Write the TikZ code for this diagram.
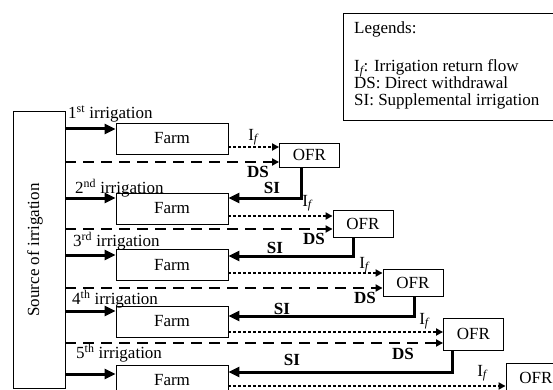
\documentclass[tikz,border=0pt]{standalone}
\usepackage{fontspec}
\setmainfont{Liberation Serif}
\usetikzlibrary{arrows.meta}

\tikzset{
  box/.style={draw, line width=0.9pt, inner sep=0pt},
  farm/.style={box, minimum width=112pt, minimum height=31pt},
  ofr/.style={box, minimum width=60pt, minimum height=27pt},
  irr/.style={line width=3pt, -{Triangle[length=11pt,width=10pt]}},
  supp/.style={line width=3pt, -{Triangle[length=11pt,width=10pt]}},
  ret/.style={line width=2.2pt, dash pattern=on 2.2pt off 2.8pt, -{Triangle[length=7pt,width=7pt]}},
  withdr/.style={line width=2.6pt, dash pattern=on 11pt off 7pt, -{Triangle[length=7pt,width=7pt]}},
  txt/.style={font=\fontsize{17}{17}\selectfont, inner sep=0pt},
  btxt/.style={font=\fontsize{17}{17}\selectfont\bfseries, inner sep=0pt},
  lab/.style={txt, anchor=west}
}

\begin{document}
\begin{tikzpicture}[x=1pt, y=-1pt, txt]
  \useasboundingbox (0,0) rectangle (553,390);

  % Source
  \node[box, minimum width=52pt, minimum height=277pt] (src) at (39,249.5) {};
  \node[txt, rotate=90] (srctxt) at (35,250) {Source of irrigation};

  % Farms
  \node[farm] (farm1) at (172,138.5) {Farm};
  \node[farm] (farm2) at (172,208.5) {Farm};
  \node[farm] (farm3) at (172,265) {Farm};
  \node[farm] (farm4) at (172,321.5) {Farm};
  \node[farm] (farm5) at (172,380.5) {Farm};

  % On-farm reservoirs
  \node[ofr, minimum height=24pt] (ofr1) at (309.5,155) {OFR};
  \node[ofr] (ofr2) at (363,224) {OFR};
  \node[ofr] (ofr3) at (413,283) {OFR};
  \node[ofr, minimum height=32pt] (ofr4) at (473.5,334) {OFR};
  \node[ofr, minimum height=30pt] (ofr5) at (536,378) {OFR};

  % Legends
  \node[box, anchor=north west, minimum width=215pt, minimum height=107pt] (legend) at (343,13) {};
  \node[txt, anchor=north west, align=left] (legtxt) at ([shift={(11pt,-9pt)}]legend.north west)
    {Legends:\\[21pt]
     I\textsubscript{\itshape f}: Irrigation return flow\\
     DS: Direct withdrawal\\
     SI: Supplemental irrigation};

  % 1st irrigation
  \node[lab] (lab1) at (68,114) {1\textsuperscript{st} irrigation};
  \draw[irr] (src.east |- 0,129) -- (farm1.west |- 0,129);
  \draw[ret] (farm1.east |- 0,147) -- (ofr1.west |- 0,147);
  \node (if1) at (253,137) {I\textsubscript{\itshape f}};
  \draw[withdr] (src.east |- 0,162) -- (ofr1.west |- 0,162);
  \node[btxt] (ds1) at (258,172) {DS};
  \draw[supp] (ofr1.south -| 301,0) |- (farm2.east |- 0,198);
  \node[btxt] (si1) at (272,188) {SI};

  % 2nd irrigation
  \node[lab] (lab2) at (75,188) {2\textsuperscript{nd} irrigation};
  \draw[irr] (src.east |- 0,198) -- (farm2.west |- 0,198);
  \draw[ret] (farm2.east |- 0,216) -- (ofr2.west |- 0,216);
  \node (if2) at (307,203) {I\textsubscript{\itshape f}};
  \draw[withdr] (src.east |- 0,229) -- (ofr2.west |- 0,229);
  \node[btxt] (ds2) at (314,239) {DS};
  \draw[supp] (ofr2.south -| 353,0) |- (farm3.east |- 0,256);
  \node[btxt] (si2) at (275,248) {SI};

  % 3rd irrigation
  \node[lab] (lab3) at (73,241) {3\textsuperscript{rd} irrigation};
  \draw[irr] (src.east |- 0,255) -- (farm3.west |- 0,255);
  \draw[ret] (farm3.east |- 0,273) -- (ofr3.west |- 0,273);
  \node (if3) at (364,265) {I\textsubscript{\itshape f}};
  \draw[withdr] (src.east |- 0,288) -- (ofr3.west |- 0,288);
  \node[btxt] (ds3) at (365,298) {DS};
  \draw[supp] (ofr3.south -| 414,0) |- (farm4.east |- 0,316);
  \node[btxt] (si3) at (282,309) {SI};

  % 4th irrigation
  \node[lab] (lab4) at (72,299) {4\textsuperscript{th} irrigation};
  \draw[irr] (src.east |- 0,311) -- (farm4.west |- 0,311);
  \draw[ret] (farm4.east |- 0,332) -- (ofr4.west |- 0,332);
  \node (if4) at (424,321) {I\textsubscript{\itshape f}};
  \draw[withdr] (src.east |- 0,343) -- (ofr4.west |- 0,343);
  \node[btxt] (ds4) at (403,354) {DS};
  \draw[supp] (ofr4.south -| 452,0) |- (farm5.east |- 0,372);
  \node[btxt] (si4) at (292,360) {SI};

  % 5th irrigation
  \node[lab] (lab5) at (76,353) {5\textsuperscript{th} irrigation};
  \draw[irr] (src.east |- 0,374) -- (farm5.west |- 0,374);
  \draw[ret] (farm5.east |- 0,386) -- (ofr5.west |- 0,386);
  \node (if5) at (482,373) {I\textsubscript{\itshape f}};
\end{tikzpicture}
\end{document}
